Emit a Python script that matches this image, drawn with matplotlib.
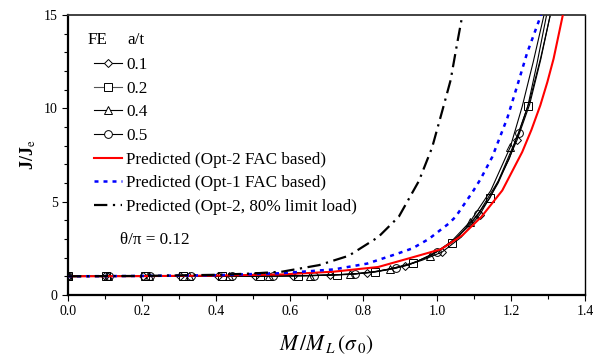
import numpy as np
import matplotlib
matplotlib.use("Agg")
import matplotlib.pyplot as plt
from matplotlib.ticker import MultipleLocator, FormatStrFormatter

plt.rcParams.update({
    "font.family": "serif", "font.serif": ["Liberation Serif", "DejaVu Serif"],
    "mathtext.fontset": "stix", "font.size": 10,
})

# FE results, one array pair per a/t (marker points)
FE_LABELS = ["0.1", "0.2", "0.4", "0.5"]
FE_MARKERS = ["D", "s", "^", "o"]
FE_X = {
    "0.1": [0, 0.101, 0.203, 0.304, 0.405, 0.507, 0.608, 0.709, 0.81, 0.912, 1.013, 1.115, 1.216],
    "0.2": [0, 0.104, 0.208, 0.312, 0.416, 0.52, 0.624, 0.728, 0.832, 0.934, 1.039, 1.142, 1.245],
    "0.4": [0, 0.109, 0.218, 0.327, 0.436, 0.545, 0.654, 0.763, 0.872, 0.98, 1.089, 1.198],
    "0.5": [0, 0.111, 0.222, 0.333, 0.444, 0.555, 0.666, 0.777, 0.888, 0.999, 1.11, 1.221],
}
FE_J = {
    "0.1": [1.0, 1.0, 1.0, 1.0, 1.0, 1.01, 1.03, 1.06, 1.2, 1.55, 2.3, 4.3, 8.3],
    "0.2": [1.0, 1.0, 1.0, 1.0, 1.0, 1.01, 1.03, 1.08, 1.25, 1.7, 2.8, 5.18, 10.1],
    "0.4": [1.0, 1.0, 1.0, 1.0, 1.0, 1.01, 1.03, 1.1, 1.4, 2.09, 3.93, 7.94],
    "0.5": [1.0, 1.0, 1.0, 1.0, 1.0, 1.01, 1.04, 1.13, 1.43, 2.32, 4.32, 8.7],
}
# FE curves (full load history)
FE_LX = {
    "0.1": [0, 0.4, 0.6, 0.7, 0.76, 0.81, 0.86, 0.912, 0.96, 1.013, 1.065, 1.115, 1.165, 1.216, 1.25, 1.28, 1.306],
    "0.2": [0, 0.416, 0.624, 0.728, 0.78, 0.832, 0.88, 0.934, 0.985, 1.039, 1.09, 1.142, 1.195, 1.245, 1.27, 1.296],
    "0.4": [0, 0.436, 0.654, 0.763, 0.82, 0.872, 0.93, 0.98, 1.035, 1.089, 1.145, 1.198, 1.23, 1.26, 1.289],
    "0.5": [0, 0.444, 0.666, 0.777, 0.835, 0.888, 0.945, 0.999, 1.055, 1.11, 1.165, 1.221, 1.25, 1.28, 1.306],
}
FE_LJ = {
    "0.1": [1.0, 1.0, 1.03, 1.06, 1.11, 1.2, 1.34, 1.55, 1.87, 2.3, 3.1, 4.3, 6.0, 8.3, 10.2, 12.6, 15.0],
    "0.2": [1.0, 1.0, 1.03, 1.08, 1.14, 1.25, 1.43, 1.7, 2.15, 2.8, 3.8, 5.18, 7.3, 10.1, 12.4, 15.0],
    "0.4": [1.0, 1.0, 1.03, 1.1, 1.2, 1.4, 1.68, 2.09, 2.8, 3.93, 5.6, 7.94, 10.1, 12.5, 15.0],
    "0.5": [1.0, 1.0, 1.04, 1.13, 1.24, 1.43, 1.8, 2.32, 3.1, 4.32, 6.1, 8.7, 10.4, 12.7, 15.0],
}

# predictions
OPT2_X = [0, 0.2, 0.4, 0.58, 0.72, 0.84, 0.93, 1.01, 1.068, 1.12, 1.176, 1.23, 1.255, 1.279, 1.298, 1.315, 1.34]
OPT2_J = [1.0, 1.01, 1.04, 1.1, 1.25, 1.5, 2.0, 2.45, 3.2, 4.2, 5.6, 7.66, 8.85, 10.16, 11.4, 12.66, 15.0]
OPT1_X = [0, 0.2, 0.4, 0.58, 0.72, 0.81, 0.89, 0.933, 0.977, 1.032, 1.05, 1.095, 1.117, 1.149, 1.19, 1.221, 1.243, 1.281]
OPT1_J = [1.0, 1.02, 1.06, 1.17, 1.37, 1.68, 2.2, 2.5, 3.0, 3.84, 4.2, 5.5, 6.2, 7.4, 9.5, 11.5, 12.95, 15.0]
LIM_X = [0, 0.2, 0.4, 0.5, 0.58, 0.68, 0.76, 0.84, 0.896, 0.95, 0.986, 1.014, 1.036, 1.054, 1.068]
LIM_J = [1.0, 1.02, 1.08, 1.15, 1.25, 1.6, 2.1, 3.1, 4.2, 6.1, 7.9, 9.9, 11.5, 13.5, 15.0]

fig = plt.figure(figsize=(5.93, 3.6), dpi=100)
ax = fig.add_axes([0.1147, 0.1806, 0.8718, 0.7778])

MS = {"D": 4.4, "s": 5.2, "^": 5.4, "o": 5.6}
for lab, mk in zip(FE_LABELS, FE_MARKERS):
    ax.plot(FE_LX[lab], FE_LJ[lab], color="black", lw=0.8, zorder=2)
    ax.plot(FE_X[lab], FE_J[lab], ls="none", marker=mk, ms=MS[mk],
            mfc="none", mec="black", mew=0.7, zorder=3)

ax.plot(OPT2_X, OPT2_J, color="#ff0000", lw=1.5, zorder=4)
ax.plot(OPT1_X, OPT1_J, color="#0000ff", lw=1.8, dashes=(1.6, 2.0), zorder=5)
ax.plot(LIM_X, LIM_J, color="black", lw=1.6, dashes=(6, 2.5, 1, 2.5), zorder=5)

# legend handles
hs = []
for lab, mk in zip(FE_LABELS, FE_MARKERS):
    hs.append(plt.Line2D([], [], color="black" if lab != "0.2" else "#555555", lw=0.8,
                         marker=mk, ms=MS[mk], mfc="white", mec="black", mew=0.7))
hs.append(plt.Line2D([], [], color="#ff0000", lw=1.5))
hs.append(plt.Line2D([], [], color="#0000ff", lw=1.8, dashes=(1.6, 2.0)))
hs.append(plt.Line2D([], [], color="black", lw=1.6, dashes=(6, 2.5, 1, 2.5)))
labels = FE_LABELS + ["Predicted (Opt-2 FAC based)", "Predicted (Opt-1 FAC based)",
                      "Predicted (Opt-2, 80% limit load)"]
leg = ax.legend(hs, labels, loc="upper left", bbox_to_anchor=(0.027, 0.893),
                frameon=False, fontsize=12.3, handlelength=1.65, handletextpad=0.25,
                labelspacing=0.45, borderaxespad=0.3)

ax.text(20 / 517, 1 - 25 / 280, "FE", transform=ax.transAxes,
        fontsize=12.3, va="center", ha="left")
ax.text(59 / 517, 1 - 25 / 280, "a/t", transform=ax.transAxes,
        fontsize=12.3, va="center", ha="left")
ax.text(0.1, 0.196, "θ/π = 0.12", transform=ax.transAxes,
        fontsize=12.3, va="center", ha="left")

ax.set_xlim(0, 1.4)
ax.set_ylim(0, 15)
ax.xaxis.set_major_locator(MultipleLocator(0.2))
ax.xaxis.set_minor_locator(MultipleLocator(0.1))
ax.xaxis.set_major_formatter(FormatStrFormatter("%.1f"))
ax.yaxis.set_major_locator(MultipleLocator(5))
ax.yaxis.set_minor_locator(MultipleLocator(1))
ax.tick_params(which="both", direction="out", labelsize=10, width=0.8)
ax.tick_params(which="major", length=4)
ax.tick_params(which="minor", length=3)
for s in ["left", "bottom"]:
    ax.spines[s].set_linewidth(1.6)
ax.spines["top"].set_linewidth(1.3)
ax.spines["top"].set_color("#333333")
ax.spines["right"].set_linewidth(1.0)

ax.set_xlabel(r"$M\,/M_{\,L}\,(\sigma_{\,0})$", fontsize=15.5, labelpad=11)
ax.set_ylabel(r"J/J$_{\mathrm{e}}$", fontsize=13, fontweight="bold", labelpad=4)

fig.savefig("out.png", dpi=100)
